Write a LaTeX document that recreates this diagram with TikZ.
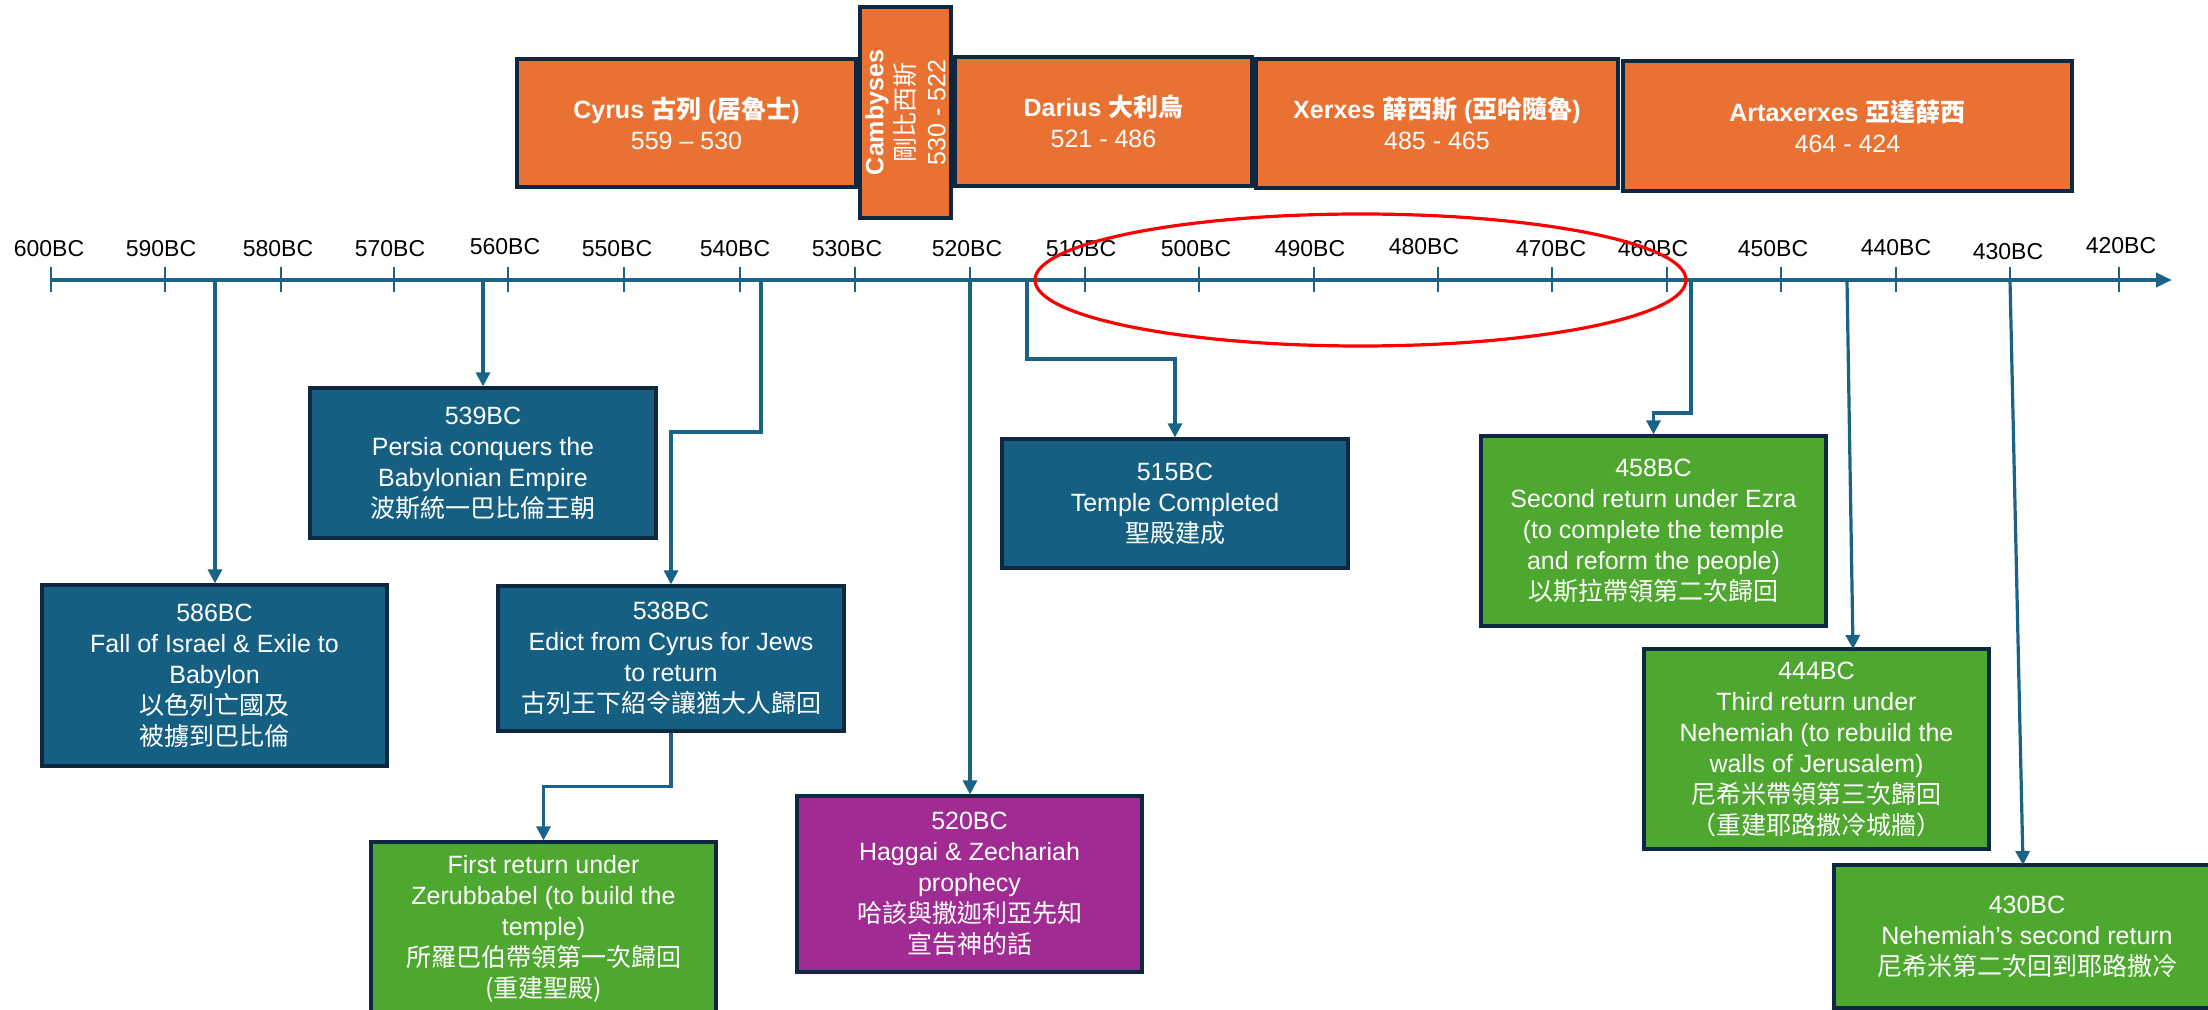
\documentclass[tikz,border=0pt]{standalone}
\usepackage{fontspec}
\setmainfont{Liberation Sans}
\newfontfamily\cjk{Noto Sans CJK TC}
\usetikzlibrary{arrows.meta}
\definecolor{blueF}{HTML}{156082}
\definecolor{orangeF}{HTML}{E97132}
\definecolor{greenF}{HTML}{4EA72E}
\definecolor{purpleF}{HTML}{A02B93}
\definecolor{bordC}{HTML}{0E2841}
\definecolor{lineC}{HTML}{1A6288}
\tikzset{
  evbox/.style={draw=bordC, line width=1.6pt, text=white, align=center, inner sep=0pt,
    font=\fontsize{12.5}{15.5}\selectfont},
  bluebox/.style={evbox, fill=blueF},
  orangebox/.style={evbox, fill=orangeF},
  greenbox/.style={evbox, fill=greenF},
  purplebox/.style={evbox, fill=purpleF},
  conn/.style={draw=lineC, line width=1.6pt, -{Triangle[width=7pt,length=7pt]}},
  axisline/.style={draw=lineC, line width=2pt, -{Triangle[width=7pt,length=8pt]}},
  tickline/.style={draw=lineC, line width=1.4pt},
  ticklabel/.style={inner sep=0pt, font=\fontsize{11.5}{13}\selectfont, text=black},
}
\begin{document}
\begin{tikzpicture}[x=0.5pt,y=-0.5pt]
\useasboundingbox (0,0) rectangle (2208,1010);
\clip (0,0) rectangle (2208,1010);

% axis
\coordinate (ax0) at (51,280);
\coordinate (ax1) at (2172,280);
\draw[axisline] (ax0) -- (ax1);

% ticks and labels
\foreach \n/\tx/\lx/\ly in {600/51/49/249, 590/165/161/249, 580/281/278/249, 570/394/390/249,
  560/508/505/247, 550/624/617/249, 540/740/735/249, 530/855/847/249, 520/970/967/249,
  510/1085/1081/249, 500/1199/1196/249, 490/1314/1310/249, 480/1438/1424/247,
  470/1552/1551/249, 460/1667/1653/249, 450/1781/1773/249, 440/1896/1896/248,
  430/2010/2008/252, 420/2119/2121/246}{
  \draw[tickline] (\tx,267) -- (\tx,292);
  \node[ticklabel] (l\n) at (\lx,\ly) {\n BC};
}

% top reign boxes
\node[orangebox, minimum width=169.5pt, minimum height=64pt] (bCyrus) at (686.5,123)
  {\textbf{Cyrus} {\cjk\bfseries 古列} \textbf{(}{\cjk\bfseries 居魯士}\textbf{)}\\559 – 530};
\node[orangebox, rotate=90, minimum width=105.5pt, minimum height=45.5pt] (bCamb) at (905.5,112.5)
  {\textbf{Cambyses}\\{\cjk 剛比西斯}\\530 - 522};
\node[orangebox, minimum width=148.5pt, minimum height=64.5pt] (bDarius) at (1103.5,121.5)
  {\textbf{Darius} {\cjk\bfseries 大利烏}\\521 - 486};
\node[orangebox, minimum width=181pt, minimum height=64.5pt] (bXerxes) at (1437,123.5)
  {\textbf{Xerxes} {\cjk\bfseries 薛西斯} \textbf{(}{\cjk\bfseries 亞哈隨魯}\textbf{)}\\485 - 465};
\node[orangebox, minimum width=224.5pt, minimum height=65pt] (bArta) at (1847.5,126)
  {\textbf{Artaxerxes} {\cjk\bfseries 亞達薛西}\\464 - 424};

% event boxes
\node[bluebox, minimum width=172.5pt, minimum height=90.5pt] (b586) at (214.5,675.5)
  {586BC\\Fall of Israel \& Exile to\\Babylon\\{\cjk 以色列亡國及}\\{\cjk 被擄到巴比倫}};
\node[bluebox, minimum width=173pt, minimum height=75pt] (b539) at (483,463)
  {539BC\\Persia conquers the\\Babylonian Empire\\{\cjk 波斯統一巴比倫王朝}};
\node[bluebox, minimum width=173pt, minimum height=72.5pt] (b538) at (671,658.5)
  {538BC\\Edict from Cyrus for Jews\\to return\\{\cjk 古列王下紹令讓猶大人歸回}};
\node[greenbox, minimum width=172.5pt, minimum height=87pt] (bFirst) at (543.5,929)
  {First return under\\Zerubbabel (to build the\\temple)\\{\cjk 所羅巴伯帶領第一次歸回}\\{\cjk (重建聖殿)}};
\node[purplebox, minimum width=172.5pt, minimum height=88pt] (b520) at (969.5,884)
  {520BC\\Haggai \& Zechariah\\prophecy\\{\cjk 哈該與撒迦利亞先知}\\{\cjk 宣告神的話}};
\node[bluebox, minimum width=173pt, minimum height=64.5pt] (b515) at (1175,503.5)
  {515BC\\Temple Completed\\{\cjk 聖殿建成}};
\node[greenbox, minimum width=172.5pt, minimum height=95pt] (b458) at (1653.5,531)
  {458BC\\Second return under Ezra\\(to complete the temple\\and reform the people)\\{\cjk 以斯拉帶領第二次歸回}};
\node[greenbox, minimum width=172.5pt, minimum height=100pt] (b444) at (1816.5,749)
  {444BC\\Third return under\\Nehemiah (to rebuild the\\walls of Jerusalem)\\{\cjk 尼希米帶領第三次歸回}\\{\cjk （重建耶路撒冷城牆）}};
\node[greenbox, minimum width=193pt, minimum height=71.5pt] (b430) at (2027,936.5)
  {430BC\\Nehemiah’s second return\\{\cjk 尼希米第二次回到耶路撒冷}};

% connector start points on the axis
\coordinate (c586) at (215,280);
\coordinate (c539) at (483,280);
\coordinate (c538) at (761,280);
\coordinate (c520) at (970,280);
\coordinate (c515) at (1027,280);
\coordinate (c458) at (1691,280);
\coordinate (c444) at (1847,280);
\coordinate (t444) at (1853,649);
\coordinate (c430) at (2010,280);
\coordinate (t430) at (2023,865);

% connectors
\draw[conn] (c586) -- (c586 |- b586.north);
\draw[conn] (c539) -- (c539 |- b539.north);
\draw[conn] (c538) -- ++(0,152) -| (b538.north);
\draw[conn] (b538.south) -- ++(0,54) -| (bFirst.north);
\draw[conn] (c520) -- (c520 |- b520.north);
\draw[conn] (c515) -- ++(0,79) -| (b515.north);
\draw[conn] (c458) -- ++(0,133) -| (b458.north);
\draw[conn] (c444) -- (t444);
\draw[conn] (c430) -- (t430);

% highlight ellipse
\draw[red, line width=1.6pt] (1360.5,280) ellipse [x radius=325.5, y radius=66];
\end{tikzpicture}
\end{document}
